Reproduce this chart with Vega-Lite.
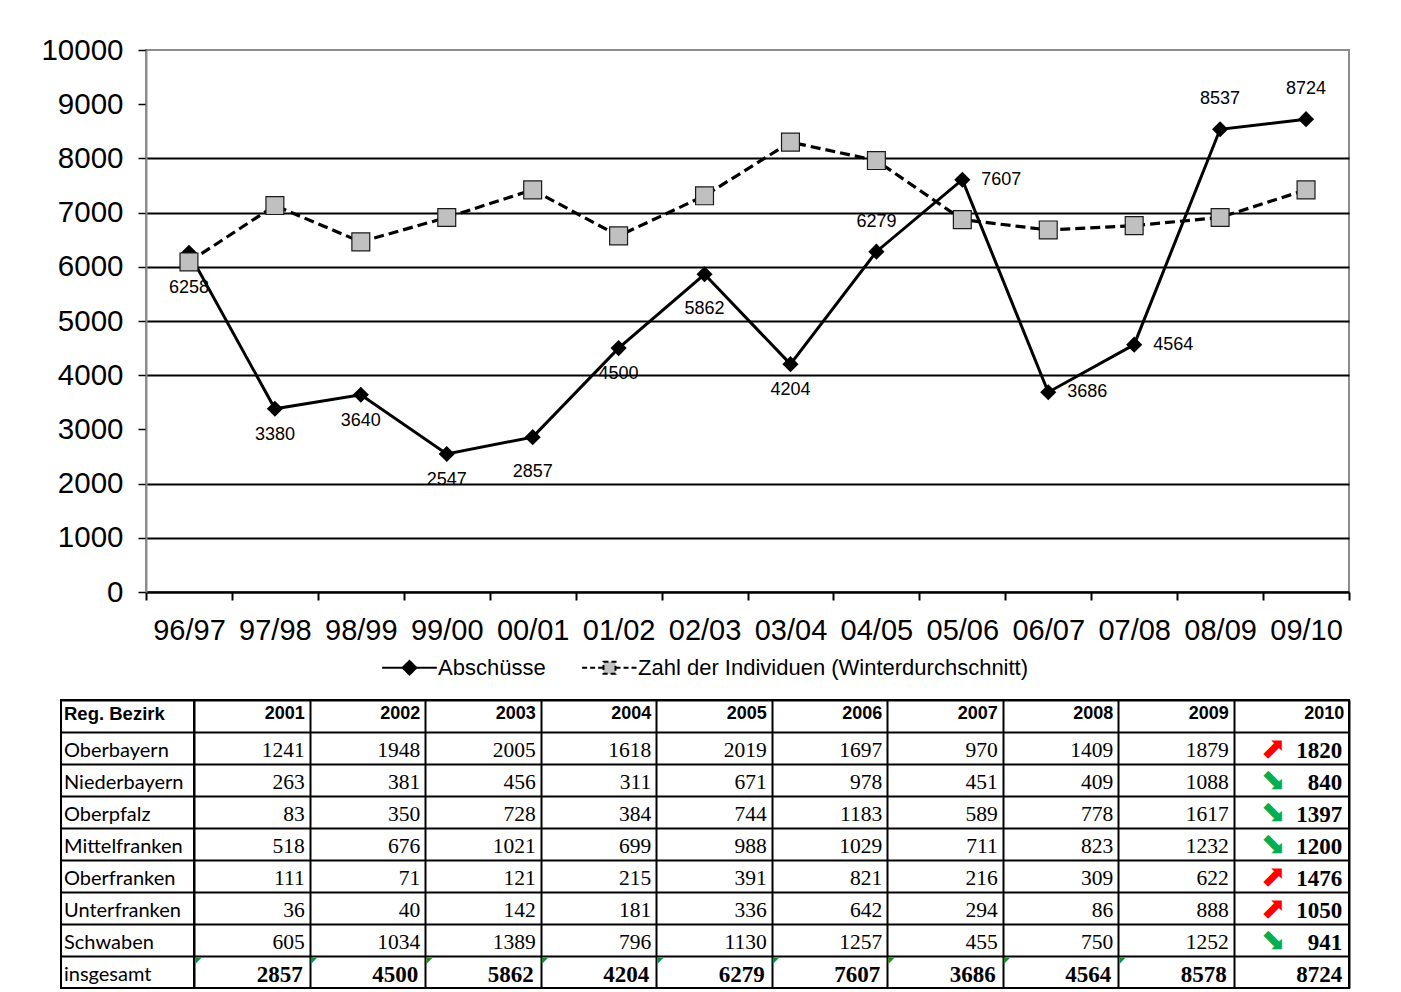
{
  "$schema": "https://vega.github.io/schema/vega-lite/v6.json",
  "background": "white",
  "padding": {"left": 39, "top": 34, "right": 5, "bottom": 0},
  "bounds": "flush",
  "spacing": 650,
  "config": {
    "font": "Liberation Sans",
    "view": {"stroke": null},
    "axis": {"labelColor": "black"}
  },
  "datasets": {
    "chart": [
      {"season": "96/97", "series": "Abschüsse", "value": 6258},
      {"season": "97/98", "series": "Abschüsse", "value": 3380},
      {"season": "98/99", "series": "Abschüsse", "value": 3640},
      {"season": "99/00", "series": "Abschüsse", "value": 2547},
      {"season": "00/01", "series": "Abschüsse", "value": 2857},
      {"season": "01/02", "series": "Abschüsse", "value": 4500},
      {"season": "02/03", "series": "Abschüsse", "value": 5862},
      {"season": "03/04", "series": "Abschüsse", "value": 4204},
      {"season": "04/05", "series": "Abschüsse", "value": 6279},
      {"season": "05/06", "series": "Abschüsse", "value": 7607},
      {"season": "06/07", "series": "Abschüsse", "value": 3686},
      {"season": "07/08", "series": "Abschüsse", "value": 4564},
      {"season": "08/09", "series": "Abschüsse", "value": 8537},
      {"season": "09/10", "series": "Abschüsse", "value": 8724},
      {"season": "96/97", "series": "Zahl der Individuen (Winterdurchschnitt)", "value": 6090},
      {"season": "97/98", "series": "Zahl der Individuen (Winterdurchschnitt)", "value": 7130},
      {"season": "98/99", "series": "Zahl der Individuen (Winterdurchschnitt)", "value": 6460},
      {"season": "99/00", "series": "Zahl der Individuen (Winterdurchschnitt)", "value": 6910},
      {"season": "00/01", "series": "Zahl der Individuen (Winterdurchschnitt)", "value": 7420},
      {"season": "01/02", "series": "Zahl der Individuen (Winterdurchschnitt)", "value": 6570},
      {"season": "02/03", "series": "Zahl der Individuen (Winterdurchschnitt)", "value": 7310},
      {"season": "03/04", "series": "Zahl der Individuen (Winterdurchschnitt)", "value": 8300},
      {"season": "04/05", "series": "Zahl der Individuen (Winterdurchschnitt)", "value": 7960},
      {"season": "05/06", "series": "Zahl der Individuen (Winterdurchschnitt)", "value": 6870},
      {"season": "06/07", "series": "Zahl der Individuen (Winterdurchschnitt)", "value": 6680},
      {"season": "07/08", "series": "Zahl der Individuen (Winterdurchschnitt)", "value": 6760},
      {"season": "08/09", "series": "Zahl der Individuen (Winterdurchschnitt)", "value": 6910},
      {"season": "09/10", "series": "Zahl der Individuen (Winterdurchschnitt)", "value": 7420}
    ],
    "table": [
      {"region": "Oberbayern", "year": "2001", "value": 1241},
      {"region": "Oberbayern", "year": "2002", "value": 1948},
      {"region": "Oberbayern", "year": "2003", "value": 2005},
      {"region": "Oberbayern", "year": "2004", "value": 1618},
      {"region": "Oberbayern", "year": "2005", "value": 2019},
      {"region": "Oberbayern", "year": "2006", "value": 1697},
      {"region": "Oberbayern", "year": "2007", "value": 970},
      {"region": "Oberbayern", "year": "2008", "value": 1409},
      {"region": "Oberbayern", "year": "2009", "value": 1879},
      {"region": "Oberbayern", "year": "2010", "value": 1820, "trend": "up"},
      {"region": "Niederbayern", "year": "2001", "value": 263},
      {"region": "Niederbayern", "year": "2002", "value": 381},
      {"region": "Niederbayern", "year": "2003", "value": 456},
      {"region": "Niederbayern", "year": "2004", "value": 311},
      {"region": "Niederbayern", "year": "2005", "value": 671},
      {"region": "Niederbayern", "year": "2006", "value": 978},
      {"region": "Niederbayern", "year": "2007", "value": 451},
      {"region": "Niederbayern", "year": "2008", "value": 409},
      {"region": "Niederbayern", "year": "2009", "value": 1088},
      {"region": "Niederbayern", "year": "2010", "value": 840, "trend": "down"},
      {"region": "Oberpfalz", "year": "2001", "value": 83},
      {"region": "Oberpfalz", "year": "2002", "value": 350},
      {"region": "Oberpfalz", "year": "2003", "value": 728},
      {"region": "Oberpfalz", "year": "2004", "value": 384},
      {"region": "Oberpfalz", "year": "2005", "value": 744},
      {"region": "Oberpfalz", "year": "2006", "value": 1183},
      {"region": "Oberpfalz", "year": "2007", "value": 589},
      {"region": "Oberpfalz", "year": "2008", "value": 778},
      {"region": "Oberpfalz", "year": "2009", "value": 1617},
      {"region": "Oberpfalz", "year": "2010", "value": 1397, "trend": "down"},
      {"region": "Mittelfranken", "year": "2001", "value": 518},
      {"region": "Mittelfranken", "year": "2002", "value": 676},
      {"region": "Mittelfranken", "year": "2003", "value": 1021},
      {"region": "Mittelfranken", "year": "2004", "value": 699},
      {"region": "Mittelfranken", "year": "2005", "value": 988},
      {"region": "Mittelfranken", "year": "2006", "value": 1029},
      {"region": "Mittelfranken", "year": "2007", "value": 711},
      {"region": "Mittelfranken", "year": "2008", "value": 823},
      {"region": "Mittelfranken", "year": "2009", "value": 1232},
      {"region": "Mittelfranken", "year": "2010", "value": 1200, "trend": "down"},
      {"region": "Oberfranken", "year": "2001", "value": 111},
      {"region": "Oberfranken", "year": "2002", "value": 71},
      {"region": "Oberfranken", "year": "2003", "value": 121},
      {"region": "Oberfranken", "year": "2004", "value": 215},
      {"region": "Oberfranken", "year": "2005", "value": 391},
      {"region": "Oberfranken", "year": "2006", "value": 821},
      {"region": "Oberfranken", "year": "2007", "value": 216},
      {"region": "Oberfranken", "year": "2008", "value": 309},
      {"region": "Oberfranken", "year": "2009", "value": 622},
      {"region": "Oberfranken", "year": "2010", "value": 1476, "trend": "up"},
      {"region": "Unterfranken", "year": "2001", "value": 36},
      {"region": "Unterfranken", "year": "2002", "value": 40},
      {"region": "Unterfranken", "year": "2003", "value": 142},
      {"region": "Unterfranken", "year": "2004", "value": 181},
      {"region": "Unterfranken", "year": "2005", "value": 336},
      {"region": "Unterfranken", "year": "2006", "value": 642},
      {"region": "Unterfranken", "year": "2007", "value": 294},
      {"region": "Unterfranken", "year": "2008", "value": 86},
      {"region": "Unterfranken", "year": "2009", "value": 888},
      {"region": "Unterfranken", "year": "2010", "value": 1050, "trend": "up"},
      {"region": "Schwaben", "year": "2001", "value": 605},
      {"region": "Schwaben", "year": "2002", "value": 1034},
      {"region": "Schwaben", "year": "2003", "value": 1389},
      {"region": "Schwaben", "year": "2004", "value": 796},
      {"region": "Schwaben", "year": "2005", "value": 1130},
      {"region": "Schwaben", "year": "2006", "value": 1257},
      {"region": "Schwaben", "year": "2007", "value": 455},
      {"region": "Schwaben", "year": "2008", "value": 750},
      {"region": "Schwaben", "year": "2009", "value": 1252},
      {"region": "Schwaben", "year": "2010", "value": 941, "trend": "down"},
      {"region": "insgesamt", "year": "2001", "value": 2857},
      {"region": "insgesamt", "year": "2002", "value": 4500},
      {"region": "insgesamt", "year": "2003", "value": 5862},
      {"region": "insgesamt", "year": "2004", "value": 4204},
      {"region": "insgesamt", "year": "2005", "value": 6279},
      {"region": "insgesamt", "year": "2006", "value": 7607},
      {"region": "insgesamt", "year": "2007", "value": 3686},
      {"region": "insgesamt", "year": "2008", "value": 4564},
      {"region": "insgesamt", "year": "2009", "value": 8578},
      {"region": "insgesamt", "year": "2010", "value": 8724}
    ]
  },
  "vconcat": [
    {
      "bounds": "flush",
      "spacing": 0,
      "hconcat": [
        {
          "width": 85,
          "height": 542,
          "data": {"values": []},
          "mark": "point",
          "encoding": {},
          "view": {"stroke": null}
        },
        {
          "width": 1203,
          "height": 542,
          "data": {"name": "chart"},
          "view": {"stroke": "#8c8c8c", "strokeWidth": 2},
          "encoding": {
            "x": {
              "field": "season",
              "type": "ordinal",
              "scale": {
                "type": "band",
                "domain": ["96/97","97/98","98/99","99/00","00/01","01/02","02/03","03/04","04/05","05/06","06/07","07/08","08/09","09/10"],
                "paddingInner": 0,
                "paddingOuter": 0
              },
              "axis": {
                "title": null,
                "labelAngle": 0,
                "labelFont": "Liberation Sans",
                "labelFontSize": 29,
                "labelColor": "black",
                "labelPadding": 16,
                "labelBaseline": "top",
                "labelOverlap": false,
                "tickBand": "extent",
                "ticks": true,
                "tickSize": 8,
                "tickColor": "black",
                "tickWidth": 2,
                "domain": true,
                "domainColor": "black",
                "domainWidth": 2.5,
                "grid": false
              }
            },
            "y": {
              "field": "value",
              "type": "quantitative",
              "scale": {"domain": [0, 10000], "nice": false},
              "axis": {
                "title": null,
                "values": [0, 1000, 2000, 3000, 4000, 5000, 6000, 7000, 8000, 9000, 10000],
                "format": "d",
                "labelFont": "Liberation Sans",
                "labelFontSize": 29.5,
                "labelColor": "black",
                "labelPadding": 15,
                "tickSize": 8,
                "tickColor": "black",
                "tickWidth": 1.5,
                "domainColor": "#8c8c8c",
                "domainWidth": 2,
                "grid": true,
                "gridColor": {
                  "condition": {"test": "datum.value === 0 || datum.value === 3000 || datum.value === 9000 || datum.value === 10000", "value": "transparent"},
                  "value": "black"
                },
                "gridWidth": 2
              }
            }
          },
          "layer": [
            {
              "transform": [{"filter": {"field": "series", "equal": "Abschüsse"}}],
              "mark": {"type": "line", "color": "black", "strokeWidth": 3}
            },
            {
              "transform": [{"filter": {"field": "series", "equal": "Abschüsse"}}],
              "mark": {"type": "point", "shape": "diamond", "filled": true, "color": "black", "size": 260, "opacity": 1}
            },
            {
              "transform": [{"filter": {"field": "series", "equal": "Zahl der Individuen (Winterdurchschnitt)"}}],
              "mark": {"type": "line", "color": "black", "strokeWidth": 3.2, "strokeDash": [10, 5]}
            },
            {
              "transform": [{"filter": {"field": "series", "equal": "Zahl der Individuen (Winterdurchschnitt)"}}],
              "mark": {"type": "point", "shape": "square", "filled": true, "fill": "#c0c0c0", "stroke": "#1a1a1a", "strokeWidth": 1.2, "size": 320, "opacity": 1}
            },
            {
              "transform": [{"filter": {"and": [{"field": "series", "equal": "Abschüsse"}, {"field": "season", "oneOf": ["97/98","98/99","99/00","01/02","03/04"]}]}}],
              "mark": {"type": "text", "font": "Liberation Sans", "fontSize": 18, "color": "black", "dy": 26},
              "encoding": {"text": {"field": "value", "type": "quantitative", "format": "d"}}
            },
            {
              "transform": [{"filter": {"and": [{"field": "series", "equal": "Abschüsse"}, {"field": "season", "oneOf": ["96/97","00/01","02/03"]}]}}],
              "mark": {"type": "text", "font": "Liberation Sans", "fontSize": 18, "color": "black", "dy": 35},
              "encoding": {"text": {"field": "value", "type": "quantitative", "format": "d"}}
            },
            {
              "transform": [{"filter": {"and": [{"field": "series", "equal": "Abschüsse"}, {"field": "season", "oneOf": ["04/05","08/09","09/10"]}]}}],
              "mark": {"type": "text", "font": "Liberation Sans", "fontSize": 18, "color": "black", "dy": -30},
              "encoding": {"text": {"field": "value", "type": "quantitative", "format": "d"}}
            },
            {
              "transform": [{"filter": {"and": [{"field": "series", "equal": "Abschüsse"}, {"field": "season", "oneOf": ["05/06","06/07","07/08"]}]}}],
              "mark": {"type": "text", "font": "Liberation Sans", "fontSize": 18, "color": "black", "align": "left", "dx": 19},
              "encoding": {"text": {"field": "value", "type": "quantitative", "format": "d"}}
            },
            {
              "data": {"values": []},
              "mark": {"type": "point", "filled": true, "strokeWidth": 2, "opacity": 1},
              "encoding": {
                "shape": {
                  "field": "series",
                  "type": "nominal",
                  "scale": {
                    "domain": ["Abschüsse", "Zahl der Individuen (Winterdurchschnitt)"],
                    "range": ["M-1,0H1M0,-0.25L0.25,0L0,0.25L-0.25,0Z", "M-1,0H-0.22M0.22,0H1M-0.22,-0.22H0.22V0.22H-0.22Z"]
                  },
                  "legend": {
                    "title": null,
                    "orient": "none",
                    "legendX": 320,
                    "legendY": 589,
                    "direction": "horizontal",
                    "symbolSize": 3000,
                    "symbolStrokeWidth": 2,
                    "symbolOpacity": 1,
                    "labelFont": "Liberation Sans",
                    "labelFontSize": 22,
                    "labelColor": "black",
                    "labelOffset": 0,
                    "labelLimit": 600,
                    "columnPadding": 32
                  }
                },
                "fill": {
                  "field": "series",
                  "type": "nominal",
                  "scale": {"domain": ["Abschüsse", "Zahl der Individuen (Winterdurchschnitt)"], "range": ["black", "#c0c0c0"]}
                },
                "stroke": {
                  "field": "series",
                  "type": "nominal",
                  "scale": {"domain": ["Abschüsse", "Zahl der Individuen (Winterdurchschnitt)"], "range": ["black", "black"]}
                },
                "strokeDash": {
                  "field": "series",
                  "type": "nominal",
                  "scale": {"domain": ["Abschüsse", "Zahl der Individuen (Winterdurchschnitt)"], "range": [[1, 0], [5, 3]]}
                }
              }
            }
          ]
        }
      ]
    },
    {
      "bounds": "flush",
      "spacing": 0,
      "hconcat": [
        {
          "width": 133,
          "height": 288,
          "data": {"name": "table"},
          "view": {"stroke": "black", "strokeWidth": 2},
          "encoding": {
            "y": {
              "field": "region",
              "type": "nominal",
              "scale": {
                "domain": ["Reg. Bezirk", "Oberbayern", "Niederbayern", "Oberpfalz", "Mittelfranken", "Oberfranken", "Unterfranken", "Schwaben", "insgesamt"],
                "paddingInner": 0,
                "paddingOuter": 0
              },
              "axis": {"title": null, "labels": false, "ticks": false, "domain": false, "grid": true, "tickBand": "extent", "gridColor": "black", "gridWidth": 2}
            },
            "x": {
              "datum": "Reg. Bezirk",
              "type": "nominal",
              "bandPosition": 0,
              "scale": {"type": "band", "paddingInner": 0, "paddingOuter": 0},
              "axis": null
            }
          },
          "layer": [
            {
              "transform": [{"filter": {"field": "year", "equal": "2001"}}],
              "mark": {"type": "text", "align": "left", "baseline": "middle", "dx": 3, "dy": 3, "font": "Lato", "fontSize": 20, "color": "black"},
              "encoding": {"text": {"field": "region", "type": "nominal"}}
            },
            {
              "transform": [{"filter": {"and": [{"field": "year", "equal": "2001"}, {"field": "region", "equal": "Oberbayern"}]}}],
              "mark": {"type": "text", "text": "Reg. Bezirk", "align": "left", "baseline": "middle", "dx": 3, "dy": -2, "font": "Liberation Sans", "fontWeight": "bold", "fontSize": 18.5, "color": "black"},
              "encoding": {"y": {"datum": "Reg. Bezirk", "type": "nominal"}}
            }
          ]
        },
        {
          "width": 1155,
          "height": 288,
          "data": {"name": "table"},
          "view": {"stroke": "black", "strokeWidth": 2},
          "encoding": {
            "x": {
              "field": "year",
              "type": "nominal",
              "scale": {
                "type": "band",
                "domain": ["2001","2002","2003","2004","2005","2006","2007","2008","2009","2010"],
                "paddingInner": 0,
                "paddingOuter": 0
              },
              "axis": {"title": null, "labels": false, "ticks": false, "domain": false, "grid": true, "tickBand": "extent", "gridColor": "black", "gridWidth": 2}
            },
            "y": {
              "field": "region",
              "type": "nominal",
              "scale": {
                "domain": ["Reg. Bezirk", "Oberbayern", "Niederbayern", "Oberpfalz", "Mittelfranken", "Oberfranken", "Unterfranken", "Schwaben", "insgesamt"],
                "paddingInner": 0,
                "paddingOuter": 0
              },
              "axis": {"title": null, "labels": false, "ticks": false, "domain": false, "grid": true, "tickBand": "extent", "gridColor": "black", "gridWidth": 2}
            }
          },
          "layer": [
            {
              "transform": [{"filter": "datum.region !== 'insgesamt' && datum.year !== '2010'"}],
              "mark": {"type": "text", "align": "right", "baseline": "middle", "dx": 53, "dy": 3, "font": "Liberation Serif", "fontSize": 21.5, "color": "black"},
              "encoding": {"text": {"field": "value", "type": "quantitative", "format": "d"}}
            },
            {
              "transform": [{"filter": "datum.region === 'insgesamt' || datum.year === '2010'"}],
              "mark": {"type": "text", "align": "right", "baseline": "middle", "dx": 51, "dy": 3, "font": "Liberation Serif", "fontWeight": "bold", "fontSize": 23, "color": "black"},
              "encoding": {"text": {"field": "value", "type": "quantitative", "format": "d"}}
            },
            {
              "transform": [{"filter": {"field": "region", "equal": "Oberbayern"}}],
              "mark": {"type": "text", "align": "right", "baseline": "middle", "dx": 53, "dy": -2, "font": "Liberation Sans", "fontWeight": "bold", "fontSize": 18, "color": "black"},
              "encoding": {
                "y": {"datum": "Reg. Bezirk", "type": "nominal"},
                "text": {"field": "year", "type": "nominal"}
              }
            },
            {
              "transform": [{"filter": "isValid(datum.trend)"}],
              "mark": {"type": "text", "align": "center", "baseline": "middle", "dx": -18, "dy": 1, "font": "DejaVu Sans", "fontSize": 30},
              "encoding": {
                "text": {"condition": {"test": "datum.trend === 'up'", "value": "⬈"}, "value": "⬊"},
                "color": {"field": "trend", "type": "nominal", "scale": {"domain": ["up", "down"], "range": ["#ff0000", "#00b050"]}, "legend": null}
              }
            },
            {
              "transform": [{"filter": "datum.region === 'insgesamt' && datum.year !== '2010'"}],
              "mark": {"type": "text", "text": "◤", "align": "left", "baseline": "top", "dx": -56.5, "dy": -15, "font": "DejaVu Sans", "fontSize": 8, "color": "#1e8c1e"}
            }
          ]
        }
      ]
    }
  ]
}
